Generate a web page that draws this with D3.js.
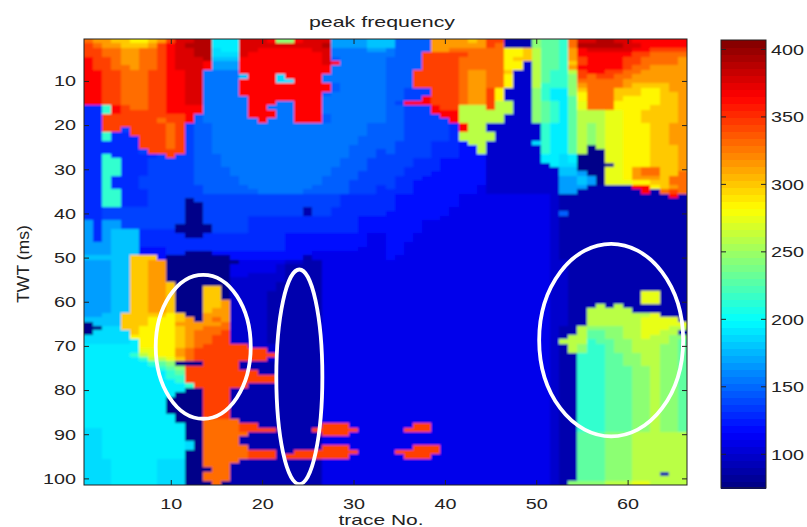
<!DOCTYPE html>
<html><head><meta charset="utf-8">
<script src="https://d3js.org/d3.v7.min.js"></script>
<style>html,body{margin:0;padding:0;background:#fff}svg{display:block}text{font-family:"Liberation Sans",sans-serif;fill:#222}</style>
</head><body><svg id="c" width="807" height="527"></svg>
<script>
// Value of each letter used in the grid (peak frequency)
const levelKeys = "abcdefghijklmnopqrstuvwxyz";
const levelValues = [78,90,100,110,120,130,138,147,155,168,180,188,194,215,230,245,260,275,285,300,315,330,345,365,377,390];
const xTicks = [10,20,30,40,50,60];
const yTicks = [10,20,30,40,50,60,70,80,90,100];
const barTicks = [100,150,200,250,300,350,400];
const traceCount = 66, twtCount = 101;
const titleText = "peak frequency", xLabel = "trace No.", yLabel = "TWT (ms)";
// annotation ellipses: [trace, twt, traceRadius, twtRadius]
const ellipses = [[13.55,70.2,5.2,16.3],[24.07,77,2.52,24.3],[58.2,68.7,7.88,21.8]];
// one row per TWT sample; groups of 11 traces
const grid = [
"vuuttsstuwy yzzmmmyyyxp pxyyyjjjjkk khhhhuuuutu wwbbbpoonvy yzzyyxxxxxx",
"wvuutttuwxy zzzmmmyyyyy yyyyzjjjjkk khhhhuuuuuu wvbbbpoonvz zzzzyyxxxxx",
"wwvvuuvvwxy yzzlmmyyxxx xxxyyiiiijj ihhhhuuvvvv vvsstqoonux yyyyyxxwwww",
"wwvvuuvvwxy yzzlllyxxxx xxxxyiiiiii ihhhwwwwwvv vvsstqoonux xxxxxwwvvvv",
"xwwvuuvvwxy yyzkkkxxxxx xxxxyhiiiii hhhhwwwwvvv vvsttqoonuw xxxxwwvvvvu",
"xwwvuuvvwxy yyxjjjxxxxx xxxxyxiiiii hhhhwwwwvvv vvsscqoontw xxxxwwvvvvu",
"xwwvvuvvwxy yyxjjjxxxxx xxxxxiiiiii hhhhwwwwvvv vvsscqoonux xxxxwvvuuuu",
"xxwwvvvwwxx yyiiiixxxxx xxxxxiiiiii hhhwwwwwvuu vvtccqonnqw xxwwvvuuuuu",
"xxwwvvvwwxx yyiiiikxxxl xxxxiiiiiii hhhwwwwwvuu vvsccqonnpw vwwvvuuuuuu",
"xxwwvvvwwxx yyiiiixxxxl lxxxiiiiiii hhhwwwwwvuu vvsccqonnpv vvvvuuuuuuu",
"xxwwvvvwwxx yyiiiixxxxx xxxxxhiiiii hhhwwwwwvuu vvsccqnnnpu vvvvuttttuu",
"xxwwvvvwwxx yyiiiixxxxx xxxxxhiiiii hhgggwwwvuu wscccpnmmpt vvvtttsstuu",
"xxwwvvvwwxx yyiiiixxxxx xxxxhiiiiii hhgggwwwvuu wscccpnmmps vvvtttssttu",
"xxwwvvvwwxx yyiiiiixxxx xxxxiiiiiii hhggxwwwvuu wscccpnmmos vvvtssssttu",
"xxwwvvvwwxx yyiiiiixxxi ixxxiiiiiii hgxxxwwwvuu wqqccponmor vvvsssssttu",
"ffnxwvvwwxx xxiiiiixxii ixxxiiiiiii hhgggxwwqqq wqqccponmor vvvsssstttu",
"ffnxwwwwwxx xxiiiiixxxi ixxxiiiiiii hhgggxxxqqq qqqccponmoq qqrrssttttu",
"ffwwwwwwwww xhiiiiixxxi ixxxhiiiiii hhggggxxqqq qqcccponmoq qqrrssttttu",
"ffwwwwwwvww xhiiiiiixii ixxxhiiiiii hhgggggxqqq qqcccponmoq qqrrssttttu",
"ffwwwwwwwvw ghhiiiiiiii iiiiiiiiihh hhgggggfxqq ccccccnmmoq pqrrsssttuu",
"ffwwgwwwwvw ghhiiiiiiii iiiiiiiiihh hhgggggfxqq ccccccnmmoq pqrrsssttuu",
"ffnffwwwwvw ghhiiiiiiii iiiiiiiiihh hhgggggfqqq qcccccnmmoq pqrrsssttuu",
"ffnfffwwwvw ghhiiiiiiii iiiiiiiihhh hhgggggfqqq qcccccnmmoq pqrrsssttuu",
"ffffffwwwvw ghhiiiiiiii iiiiiiiihhh hggggfffeqq ccccclnmmoq pqrrsssttuu",
"ffffffwwwvw ghhiiiiiiii iiiiiiihhhh hggggfffeeq ccccccnmmoq aqrrssstttu",
"ffffffgwwww ghhiiiiiiii iiiiiiihhhg hggggfffeeq ccccccnmmoq aarrssstttu",
"ffnfffffgwg ghhhiiiiiii iiiiiiihhhg gggggfffeee ccccccmmlma aarrssstttu",
"ffnnfffgggg ghhhiiiiiii iiiiiihhhgg gggfffeeeee ccccccmmlma aarrssstttu",
"ffnnfffgggg ghhhiiiiiii iiiiiihhhgg gggfffeeeee cccccccmlla aaarssstttu",
"ffnnfffgggg ghhhhiiiiii iiiiihhhhgg ggffffeeeee cccccccckka aarrsuvvttu",
"ffnnfffgggg ghhhhiiiiii iiiiihhhggg ggfffeeeeee cccccccckkj aarrsuvvttv",
"ffnfffggggg ghhhhhiiiii iiiihhhhggg gfffeeeeeee ccccccccjjk jarrsuuutvv",
"ffnfffggggg ghhhhhiiiii iiiihhhgggg gffeeeeeeee ccccccccjjk jarrrssttvv",
"ffnfffggggg gghhhhhiiii iiihhhhgggf gffeeeeeeed ccccccccjjj bbbbbxxstuv",
"ffnnfffgggg gghhhhhhiii iihhhhhgggf fffeeeeeeed ccccccccjjb bbbbbbxbvwv",
"ffnnfffgggg ggggggggggg ggggggfffff feeeeeeeddd dddddddcbbb bbbbbbbbbxb",
"ffnnfffgggg agggggggggg ggggggfffff feeeeeeeddd dddddddcbbb bbbbbbbbbbb",
"ffnnfffgggg aaggggggggg ggggggfffff feeeeeeeddd dddddddcbbb bbbbbbbbbbb",
"ffggggggggg aaggggggggg ggbggffffff feeeeeedddd dddddddcbbb bbbbbbbbbbb",
"ffggggggggg aaggggggggg ggbggffffff eeeeeeedddd dddddddchbb bbbbbbbbbbb",
"ffggggggggg aagggggffff ffffffffeee eeeeeeddddd dddddddcbbb bbbbbbbbbbb",
"jfjjggggggg aagggggffff ffffffffeee eeeeddddddd dddddddcbbb bbbbbbbbbbb",
"jfjjgggggga aaaggggffff ffffffffeee eeeeddddddd dddddddcbbb bbbbbbbbbbb",
"jfjkkkffffa aaaggggffff ffffffffeee eeeeddddddd dddddddcbbb bbbbbbbbbbb",
"jfjkkkfffff aafffffffff eeeeeeeeedd eeedddddddd dddddddcbbb bbbbbbbbbbb",
"jfjkkkfffff fffffffffff eeeeeeeeedd eeedddddddd dddddddcbbb bbbbbbbbbbb",
"jjjkkkfffff fffffffffff eeeeeeeeedd eeddddddddd dddddddcbbb bbbbbbbbbbb",
"jjjkkkeeeff fffffffffff eeeeeeeeddd eeddddddddd dddddddcbbb bbbbbbbbbbb",
"jjjkkkeeeff aaaeeeeeeee eeedddddddd eeddddddddd dddddddcbbb bbbbbbbbbbb",
"kkkkkttteaa aaaaaeeeeee eebdddddddd edddddddddd dddddddcbbb bbbbbbbbbbb",
"jjjkkttuuaa aaaaaaddddd ccbbddddddd ddddddddddd dddddddccbb bbbbbbbbbbb",
"jjjkkttuuaa aaaaadddddc bbbbddddddd ddddddddddd dddddddccbb bbbbbbbbbbb",
"jjjkkttuuaa aaaaadddddc bbbbddddddd ddddddddddd dddddddccbb bbbbbbbbbbb",
"jjjkkttuuaa aaaaaddcccc bbbbddddddd ddddddddddd dddddddccbb bbbbbbbbbbb",
"jjjkkttuuaa aaaaacccccc bbbbddddddd ddddddddddd dddddddccbb bbbbbbbbbbb",
"jjjkkttuuta aaaaacccccb bbbbddddddd ddddddddddd dddddddccbb bbbbbbbbbbb",
"jjjkkttuuta aattacccccb bbbbddddddd ddddddddddd dddddddccbb bbbbbbbbbbb",
"jjjkkttuuta aattaccccbb bbbbddddddd ddddddddddd dddddddccbb bbbbbbrrbbb",
"jjjkkttuuta aattaccccbb bbbbddddddd ddddddddddd dddddddccbb bbbbbbrrbbb",
"jjjkkttuuta aattuccccbb bbbbddddddd ddddddddddd dddddddccbb bbbbbbrrbbb",
"jjjkkttuuta aattuccccbb bbbbddddddd ddddddddddd dddddddccbb bqbqbbbbbbb",
"jjjkkttuuta aatuuccccbb bbbbddddddd ddddddddddd dddddddccbb qqqqqbbbbbb",
"jjkktttttst aauuuccccbb bbbbddddddd ddddddddddd dddddddccbb qqqqqqqrbbb",
"kkkktttssst uauvuccccbb bbbbddddddd ddddddddddd dddddddccbb qqqqqqrrrrb",
"akkktttsssu uuuuvccccbb bbbbddddddd ddddddddddd dddddddccbb qqqqqqrrrrr",
"aallttsssst uuvvvccccbb bbbbddddddd ddddddddddd dddddddcbbq ppppqqrrrqq",
"alllltsssst uvvvwccccbb bbbbddddddd ddddddddddd dddddddcbbq ooppqqrrqqb",
"lllllssssst uvvwwccccbb bbbbddddddd ddddddddddd dddddddcbqq ooppqqrqqpp",
"lllllmsssst uvvwwccccbb bbbbddddddd ddddddddddd dddddddcqqq nooppqqqqpo",
"mmmmmmsssst uvwwwwwcccb bbbbddddddd ddddddddddd dddddddcbqp nnoppqqqppo",
"mmmmmmrrssu vwwwwwwwwcb bbbbddddddd ddddddddddd dddddddcbqp nnoppqqqppo",
"mmmmmnqrssu vwwwwwwwwwb bbbbddddddd ddddddddddd dddddddcbbn nnooppqqppo",
"mmmmmmnqqrt vwwwwwwwwcb bbbbddddddd ddddddddddd dddddddcbbn nnooppqqppo",
"mmmmmmmnopa aawwwwbbbbb bbbbddddddd ddddddddddd dddddddcbbn nnooppqqppo",
"mmmmmmmmnop wwwwwwbbbbb bbbbddddddd ddddddddddd dddddddcbbn nnoooppqppo",
"mmmmmmmmmno wwwwwwwwbbb bbbbddddddd ddddddddddd dddddddcbbn nnoooppqppo",
"mmmmmmmmmnn wwwwwwwwwwb bbbbddddddd ddddddddddd dddddddcbbn nnoooppqppo",
"mmmmmmmmmmn wwwwwwwwwwb bbbbddddddd ddddddddddd dddddddcbbn nnoooppqppo",
"mmmmmmmmmmm nwwwwwwbbbb bbbbddddddd ddddddddddd dddddddcbbn nnoooppqppo",
"mmmmmmmmmmm aawwwbbbbbb bbbbddddddd ddddddddddd dddddddcbbn nnoooppqppo",
"mmmmmmmmmma aawwwbbbbbb bbbbddddddd ddddddddddd dddddddcbbn nnoooppqppo",
"mmmmmmmmmaa aawwwbbbbbb bbbbddddddd ddddddddddd dddddddcbbn nnoooppqppo",
"mmmmmmmmmaa aawwwbbbbbb bbbbddddddd ddddddddddd dddddddcbbn nnoooppqppo",
"mmmmmmmmmaa aawwwbbbbbb bbbbddddddd ddddddddddd dddddddcbbn nnoooppqppo",
"mmmmmmmmmaa aawwwbbbbbb bbbbddddddd ddddddddddd dddddddcbbn nnoooppqppo",
"mmmmmmmmmma aawwwbbbbbb bbbbddddddd ddddddddddd dddddddcbbn nnoooppqppo",
"mmmmmmmmmma aavvvvbbbbb bbbbddddddd ddddddddddd dddddddcbbn nnoooppqppo",
"mmmmmmmmmmm aavvvvwwbbb bbbbwwwdddd dddwwdddddd dddddddcbbn nnoooppqppo",
"llmmmmmmmmm aavvvvwwwwb bbbwwwwwddd ddwwwdddddd dddddddcbbn nnoooppqppo",
"llmmmmmmmmm aavvvvvbbbb bbbbwwwdddd ddddddddddd dddddddcbbo oopppqqqqqq",
"llmmmmmmmmm aavvvvbbbbb bbbbddddddd ddddddddddd dddddddcbbo oopppqqqqqq",
"llmmmmmmmmm lavvvvbbbbb bbbbddddddd ddddddddddd dddddddcbbo oopppqqqqqq",
"llmmmmmmmmm lavvvvvbbbb bbbbwwwdddd dddwwwddddd dddddddcbbo oopppqqqqqq",
"llmmmmmmmmm aavvvvvwwwb bwwwwwwwddd dwwwwwddddd dddddddcbbo oopppqqqqqq",
"llmmmmmmmmm aavvvvvwwwb wwwwwwwdddd ddwwwdddddd dddddddcbbo oopppqqqqqq",
"lllmmmmmlll aavvvvbbbbb bbbbddddddd ddddddddddd dddddddcbbo oopppqqqqqq",
"lllmmmmmlll aavvvbbbbbb bbbbddddddd ddddddddddd dddddddcbbo oopppqqqqqq",
"lllmmmmmlll aaavvbbbbbb bbbbddddddd ddddddddddd dddddddcbbo oopppqqqqqq",
"lllmmmmmlll aavvvbbbbbb bbbbddddddd ddddddddddd dddddddcbbo oopppqqqbqq",
"lllmmmmmlll aavvvbbbbbb bbbbddddddd ddddddddddd dddddddcbbo oopppqqqqqq",
"lllmmmmmlll aaavabbbbbb bbbbddddddd ddddddddddd dddddddcbpp ppqqqrrqqqq"
];

const cells = [];
grid.forEach((line, r) => {
  const s = line.replace(/ /g, "");
  if (s.length !== traceCount) throw new Error("row " + (r + 1) + " has " + s.length);
  for (let c = 0; c < traceCount; c++)
    cells.push({trace: c + 1, twt: r + 1, value: levelValues[levelKeys.indexOf(s[c])]});
});
if (grid.length !== twtCount) throw new Error("rows " + grid.length);

const vMin = 75, vMax = 407;
const f = t => vMin + t * (vMax - vMin);
const jet = d3.scaleLinear()
  .domain([0, .125, .375, .625, .875, 1].map(f))
  .range(["rgb(0,0,128)", "rgb(0,0,255)", "rgb(0,255,255)", "rgb(255,255,0)", "rgb(255,0,0)", "rgb(128,0,0)"])
  .clamp(true);

const svg = d3.select("#c");
const x = d3.scaleLinear().domain([0.5, traceCount + 0.5]).range([84, 687]);
const y = d3.scaleLinear().domain([0.5, twtCount + 0.5]).range([39, 485]);
const cbY = d3.scaleLinear().domain([vMin, vMax]).range([488, 40]);
const cbX = [721, 766];

const defs = svg.append("defs");
defs.append("filter").attr("id", "soft")
  .attr("filterUnits", "userSpaceOnUse").attr("x", 70).attr("y", 25).attr("width", 630).attr("height", 475)
  .append("feGaussianBlur").attr("stdDeviation", 0.9);
defs.append("clipPath").attr("id", "plot").append("rect")
  .attr("x", x.range()[0]).attr("y", y.range()[0])
  .attr("width", x.range()[1] - x.range()[0]).attr("height", y.range()[1] - y.range()[0]);

svg.append("g").attr("clip-path", "url(#plot)")
  .append("g").attr("filter", "url(#soft)").attr("shape-rendering", "crispEdges")
  .selectAll("rect").data(cells).join("rect")
  .attr("x", d => x(d.trace - .5) - (d.trace === 1 ? 3 : 0))
  .attr("y", d => y(d.twt - .5) - (d.twt === 1 ? 3 : 0))
  .attr("width", d => x(d.trace + .5) - x(d.trace - .5) + .5 + (d.trace === 1 || d.trace === traceCount ? 3 : 0))
  .attr("height", d => y(d.twt + .5) - y(d.twt - .5) + .5 + (d.twt === 1 || d.twt === twtCount ? 3 : 0))
  .attr("fill", d => jet(d.value));

svg.append("g").selectAll("ellipse").data(ellipses).join("ellipse")
  .attr("cx", d => x(d[0])).attr("cy", d => y(d[1]))
  .attr("rx", d => x(d[0] + d[2]) - x(d[0])).attr("ry", d => y(d[1] + d[3]) - y(d[1]))
  .attr("fill", "none").attr("stroke", "#fff").attr("stroke-width", 3.8);

const stretch = sel => sel.each(function () {
  const t = d3.select(this), n = t.text().length;
  t.attr("textLength", n * 11).attr("lengthAdjust", "spacingAndGlyphs")
   .style("font-size", "15px").style("font-family", '"Liberation Sans",sans-serif').attr("fill", "#222");
});
const styleAxis = g => {
  g.select(".domain").remove();
  g.selectAll("line").attr("stroke", "#222");
  g.selectAll("text").call(stretch);
};

svg.append("g").attr("transform", "translate(0,485)")
  .call(d3.axisBottom(x).tickValues(xTicks).tickSize(-5).tickPadding(13))
  .call(styleAxis);
svg.append("g").attr("transform", "translate(0,39)")
  .call(d3.axisTop(x).tickValues(xTicks).tickSize(-5).tickFormat(""))
  .call(styleAxis);
svg.append("g").attr("transform", "translate(84,0)")
  .call(d3.axisLeft(y).tickValues(yTicks).tickSize(-5).tickPadding(8))
  .call(styleAxis);
svg.append("g").attr("transform", "translate(687,0)")
  .call(d3.axisRight(y).tickValues(yTicks).tickSize(-5).tickFormat(""))
  .call(styleAxis);
svg.append("rect").attr("x", 84).attr("y", 39).attr("width", 603).attr("height", 446)
  .attr("fill", "none").attr("stroke", "#222").attr("stroke-width", 1);

// colour bar
const barSteps = d3.range(64);
svg.append("g").attr("shape-rendering", "crispEdges").selectAll("rect").data(barSteps).join("rect")
  .attr("x", cbX[0]).attr("width", cbX[1] - cbX[0])
  .attr("y", i => cbY(f((i + 1) / 64))).attr("height", i => cbY(f(i / 64)) - cbY(f((i + 1) / 64)) + .5)
  .attr("fill", i => jet(f((i + .5) / 64)));
svg.append("g").attr("transform", `translate(${cbX[1]},0)`)
  .call(d3.axisRight(cbY).tickValues(barTicks).tickSize(0).tickPadding(5))
  .call(styleAxis);
svg.append("g").selectAll("line").data(barTicks.flatMap(v => [[v, cbX[0], cbX[0] + 5], [v, cbX[1] - 5, cbX[1]]])).join("line")
  .attr("x1", d => d[1]).attr("x2", d => d[2]).attr("y1", d => cbY(d[0])).attr("y2", d => cbY(d[0]))
  .attr("stroke", "#222");
svg.append("rect").attr("x", cbX[0]).attr("y", 40).attr("width", cbX[1] - cbX[0]).attr("height", 448)
  .attr("fill", "none").attr("stroke", "#222").attr("stroke-width", 1);

// labels
svg.append("text").text(titleText).attr("x", 382).attr("y", 27).attr("text-anchor", "middle")
  .attr("textLength", 146).attr("lengthAdjust", "spacingAndGlyphs").style("font-size", "15px");
svg.append("text").text(xLabel).attr("x", 381).attr("y", 525).attr("text-anchor", "middle")
  .attr("textLength", 85).attr("lengthAdjust", "spacingAndGlyphs").style("font-size", "15px");
svg.append("text").text(yLabel).attr("transform", "translate(29,264) rotate(-90)").attr("text-anchor", "middle")
  .attr("textLength", 78).attr("lengthAdjust", "spacingAndGlyphs").style("font-size", "17px");
</script></body></html>
